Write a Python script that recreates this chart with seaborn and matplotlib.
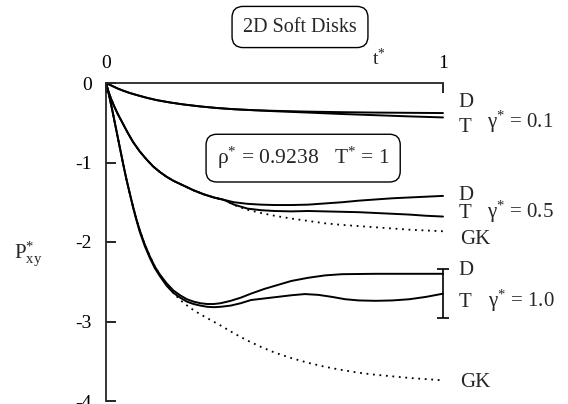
import numpy as np
import pandas as pd
import matplotlib
matplotlib.use("Agg")
import matplotlib.pyplot as plt
import seaborn as sns

sns.set_theme(style="ticks")
plt.rcParams["font.family"] = ["Liberation Serif", "DejaVu Serif"]
plt.rcParams["mathtext.fontset"] = "custom"
plt.rcParams["mathtext.rm"] = "Liberation Serif"
plt.rcParams["mathtext.it"] = "Liberation Serif:italic"
plt.rcParams["axes.unicode_minus"] = False

# gamma* = 0.1
t_01 = [0, 0.01, 0.02, 0.035, 0.05, 0.07, 0.09, 0.12, 0.15, 0.19, 0.23, 0.28, 0.33, 0.38, 0.44,
        0.5, 0.6, 0.7, 0.8, 0.9, 1.0]
d_01 = [0, -0.02, -0.04, -0.07, -0.095, -0.125, -0.15, -0.185, -0.215, -0.245, -0.27, -0.295,
        -0.315, -0.33, -0.342, -0.35, -0.36, -0.367, -0.372, -0.375, -0.378]
T_01 = [0, -0.02, -0.04, -0.07, -0.095, -0.125, -0.15, -0.185, -0.215, -0.245, -0.27, -0.295,
        -0.315, -0.33, -0.343, -0.355, -0.372, -0.39, -0.405, -0.42, -0.433]

# gamma* = 0.5
t_05 = [0, 0.005, 0.015, 0.025, 0.035, 0.05, 0.065, 0.08, 0.1, 0.12, 0.14, 0.16, 0.18, 0.2,
        0.23, 0.26, 0.29, 0.32, 0.35, 0.38, 0.42, 0.46, 0.5, 0.55, 0.6, 0.65, 0.7, 0.75, 0.8,
        0.85, 0.9, 0.95, 1.0]
d_05 = [0, -0.08, -0.2, -0.3, -0.39, -0.51, -0.63, -0.74, -0.86, -0.96, -1.05, -1.12, -1.18,
        -1.23, -1.29, -1.35, -1.40, -1.44, -1.47, -1.50, -1.52, -1.53, -1.535, -1.535, -1.53,
        -1.515, -1.50, -1.48, -1.465, -1.45, -1.44, -1.43, -1.42]
T_05 = [0, -0.08, -0.2, -0.3, -0.39, -0.51, -0.63, -0.74, -0.86, -0.96, -1.05, -1.12, -1.18,
        -1.23, -1.29, -1.35, -1.40, -1.44, -1.47, -1.53, -1.58, -1.60, -1.61, -1.615, -1.61,
        -1.615, -1.62, -1.625, -1.635, -1.645, -1.655, -1.67, -1.68]
gk_05 = [0, -0.08, -0.2, -0.3, -0.39, -0.51, -0.63, -0.74, -0.86, -0.96, -1.05, -1.12, -1.18,
         -1.23, -1.29, -1.35, -1.40, -1.44, -1.47, -1.535, -1.595, -1.635, -1.67, -1.705,
         -1.735, -1.765, -1.785, -1.80, -1.815, -1.83, -1.845, -1.855, -1.865]

# gamma* = 1.0
t_10 = [0, 0.005, 0.01, 0.02, 0.03, 0.04, 0.05, 0.06, 0.07, 0.08, 0.09, 0.1, 0.115, 0.13, 0.145,
        0.16, 0.18, 0.2, 0.22, 0.24, 0.26, 0.28, 0.3, 0.32, 0.34, 0.37, 0.4, 0.43, 0.47, 0.51,
        0.55, 0.6, 0.65, 0.7, 0.8, 0.9, 1.0]
d_10 = [0, -0.08, -0.17, -0.37, -0.58, -0.79, -1.0, -1.2, -1.38, -1.55, -1.71, -1.85, -2.03,
        -2.18, -2.31, -2.41, -2.52, -2.61, -2.67, -2.72, -2.75, -2.77, -2.78, -2.78, -2.77,
        -2.74, -2.70, -2.65, -2.59, -2.54, -2.49, -2.45, -2.42, -2.405, -2.40, -2.40, -2.40]
tt_10 = [0, 0.005, 0.01, 0.02, 0.03, 0.04, 0.05, 0.06, 0.07, 0.08, 0.09, 0.1, 0.115, 0.13, 0.145,
         0.16, 0.18, 0.2, 0.22, 0.24, 0.26, 0.28, 0.3, 0.32, 0.34, 0.37, 0.4, 0.43, 0.47, 0.51,
         0.55, 0.59, 0.63, 0.67, 0.71, 0.75, 0.8, 0.85, 0.9, 0.95, 1.0]
T_10 = [0, -0.08, -0.17, -0.37, -0.58, -0.79, -1.0, -1.2, -1.38, -1.56, -1.72, -1.87, -2.05,
        -2.20, -2.33, -2.43, -2.55, -2.64, -2.70, -2.75, -2.78, -2.80, -2.815, -2.82, -2.815,
        -2.80, -2.77, -2.73, -2.71, -2.69, -2.67, -2.655, -2.665, -2.69, -2.72, -2.735,
        -2.74, -2.735, -2.72, -2.69, -2.65]
tg_10 = [0, 0.005, 0.01, 0.02, 0.03, 0.04, 0.05, 0.06, 0.07, 0.08, 0.09, 0.1, 0.115, 0.13, 0.145,
         0.16, 0.18, 0.2, 0.22, 0.25, 0.28, 0.31, 0.34, 0.38, 0.42, 0.46, 0.5, 0.55, 0.6, 0.65,
         0.7, 0.75, 0.8, 0.85, 0.9, 0.95, 1.0]
gk_10 = [0, -0.08, -0.17, -0.37, -0.58, -0.79, -1.0, -1.2, -1.38, -1.55, -1.71, -1.85, -2.03,
         -2.18, -2.31, -2.41, -2.54, -2.64, -2.73, -2.83, -2.91, -2.98, -3.05, -3.15, -3.24,
         -3.32, -3.39, -3.46, -3.52, -3.57, -3.61, -3.645, -3.67, -3.69, -3.71, -3.725, -3.74]

# error bar at t* = 1 for gamma* = 1.0
err_mid = -2.65
err_half = 0.31

yticks = [0, -1, -2, -3, -4]
ytick_labels = ["0", "-1", "-2", "-3", "-4"]

fig = plt.figure(figsize=(5.68, 4.04), dpi=100)
ax = fig.add_axes([106 / 568, 3 / 404, 337 / 568, 318 / 404])

solid = [(t_01, d_01), (t_01, T_01), (t_05, d_05), (t_05, T_05), (t_10, d_10), (tt_10, T_10)]
dotted = [(t_05, gk_05), (tg_10, gk_10)]

for tx, py in dotted:
    sns.lineplot(x=tx, y=py, ax=ax, color="black", lw=1.3, linestyle=(0, (1, 2.6)),
                 sort=False, estimator=None)
for tx, py in solid:
    sns.lineplot(x=tx, y=py, ax=ax, color="black", lw=1.4, sort=False, estimator=None)

ax.errorbar([1.0], [err_mid], yerr=[err_half], color="black", lw=1.2, capsize=4, capthick=1.2)
for art in ax.get_lines() + ax.collections:
    art.set_clip_on(False)

ax.set_xlim(0, 1)
ax.set_ylim(-4, 0)
ax.spines["right"].set_visible(False)
ax.spines["bottom"].set_visible(False)
ax.spines["top"].set_linewidth(1.3)
ax.spines["left"].set_linewidth(1.3)
ax.xaxis.tick_top()
ax.set_xticks([0, 1])
ax.set_xticklabels(["0", "1"])
ax.set_yticks(yticks)
ax.set_yticklabels(ytick_labels)
ax.tick_params(axis="both", direction="in", length=7, width=1.2, labelsize=14, colors="black")
ax.tick_params(axis="y", pad=10)
ax.tick_params(axis="x", pad=8)
ax.set_xlabel("")
ax.set_ylabel("")

fs = 15
ax.text(0.81, 0.226, r"$\mathrm{t}^{*}$", fontsize=14, ha="center", va="baseline", clip_on=False)

# curve labels
lx = 1.045
ax.text(lx, -0.30, "D", fontsize=fs, va="baseline", clip_on=False)
ax.text(lx, -0.616, "T", fontsize=fs, va="baseline", clip_on=False)
ax.text(1.13, -0.566, r"$\mathrm{γ}^{*}$ = 0.1", fontsize=fs, va="baseline", clip_on=False)
ax.text(lx, -1.47, "D", fontsize=fs, va="baseline", clip_on=False)
ax.text(lx, -1.70, "T", fontsize=fs, va="baseline", clip_on=False)
ax.text(1.13, -1.69, r"$\mathrm{γ}^{*}$ = 0.5", fontsize=fs, va="baseline", clip_on=False)
ax.text(1.05, -2.03, "GK", fontsize=fs, va="baseline", clip_on=False)
ax.text(lx, -2.415, "D", fontsize=fs, va="baseline", clip_on=False)
ax.text(lx, -2.82, "T", fontsize=fs, va="baseline", clip_on=False)
ax.text(1.133, -2.82, r"$\mathrm{γ}^{*}$ = 1.0", fontsize=fs, va="baseline", clip_on=False)
ax.text(1.05, -3.82, "GK", fontsize=fs, va="baseline", clip_on=False)

ax.text(0.585, -0.945, r"$\mathrm{ρ}^{*}$ = 0.9238   $\mathrm{T}^{*}$ = 1", fontsize=15.5,
        ha="center", va="center",
        bbox=dict(boxstyle="round,pad=0.5", fc="white", ec="black", lw=1))

fig.text(300 / 568, 1 - 27 / 404, "2D Soft Disks", fontsize=14.5, ha="center", va="center",
         bbox=dict(boxstyle="round,pad=0.55", fc="white", ec="black", lw=1))

fig.text(28 / 568, 1 - 254 / 404, r"$\mathrm{P}^{*}_{\mathrm{xy}}$", fontsize=15,
         ha="center", va="center")

fig.savefig("out.png", dpi=100)
